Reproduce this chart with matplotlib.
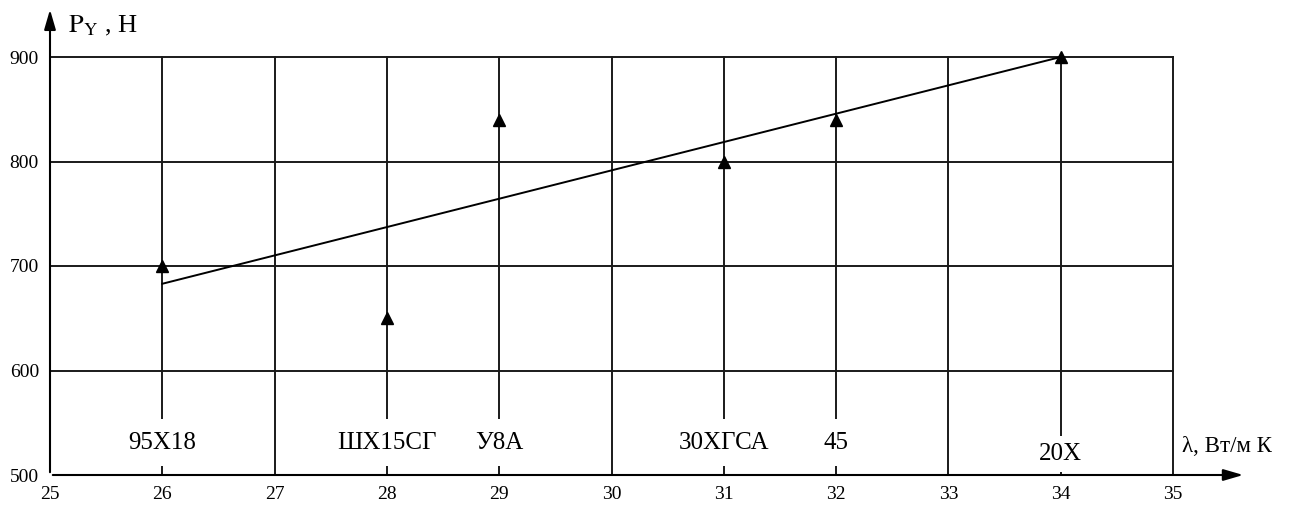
import matplotlib
matplotlib.use("Agg")
import matplotlib.pyplot as plt

# thermal conductivity, W/(m K) and radial force, N
steel = ["95Х18", "ШХ15СГ", "У8А", "30ХГСА", "45", "20Х"]
lam = [26, 28, 29, 31, 32, 34]
force = [700, 650, 840, 800, 840, 900]
label_y = [531, 531, 531, 531, 531, 520]

# trend line as drawn on the original
trend_x = [26, 34]
trend_y = [683, 900]

x_ticks = list(range(25, 36))
y_ticks = [500, 600, 700, 800, 900]

plt.rcParams["font.family"] = ["Liberation Serif", "DejaVu Serif"]
plt.rcParams["mathtext.fontset"] = "stix"

fig = plt.figure(figsize=(12.92, 5.05), dpi=100)
ax = fig.add_axes([50 / 1292, 30 / 505, 10.8 * 112.3 / 1292, 4.5 * 104.5 / 505])
ax.set_xlim(25, 35.8)
ax.set_ylim(500, 950)
for s in ax.spines.values():
    s.set_visible(False)

grid_kw = dict(color="#1a1a1a", lw=1.4, zorder=1)
for y in y_ticks[1:]:
    ax.plot([25, 35], [y, y], **grid_kw)
for x in x_ticks[1:]:
    ax.plot([x, x], [500, 900], **grid_kw)

# axes with arrows
arrow = dict(arrowstyle="-|>,head_length=1.2,head_width=0.35", color="black", lw=1.5)
ax.annotate("", xy=(35.65, 500), xytext=(25, 500), arrowprops=arrow,
            annotation_clip=False, zorder=7)
ax.annotate("", xy=(25, 948), xytext=(25, 500), arrowprops=arrow,
            annotation_clip=False, zorder=7)

ax.plot(trend_x, trend_y, color="black", lw=1.4, zorder=3)
ax.plot(lam, force, ls="none", marker="^", ms=9, color="black", zorder=4)

for name, x, y in zip(steel, lam, label_y):
    pad = 5 if y < 525 else 9
    ax.text(x, y, name, ha="center", va="center", fontsize=18, zorder=5,
            bbox=dict(facecolor="white", edgecolor="none", pad=pad))

ax.set_xticks(x_ticks)
ax.set_yticks(y_ticks)
ax.tick_params(length=0, labelsize=14)
ax.tick_params(axis="x", pad=8)
ax.tick_params(axis="y", pad=8)

ax.text(35.08, 527, "λ, Вт/м К", ha="left", va="center", fontsize=16.5, clip_on=False)
ax.text(25.16, 930, r"$\mathrm{P_Y}$ , Н", ha="left", va="center", fontsize=19, clip_on=False)

fig.savefig("out.png", dpi=100)
